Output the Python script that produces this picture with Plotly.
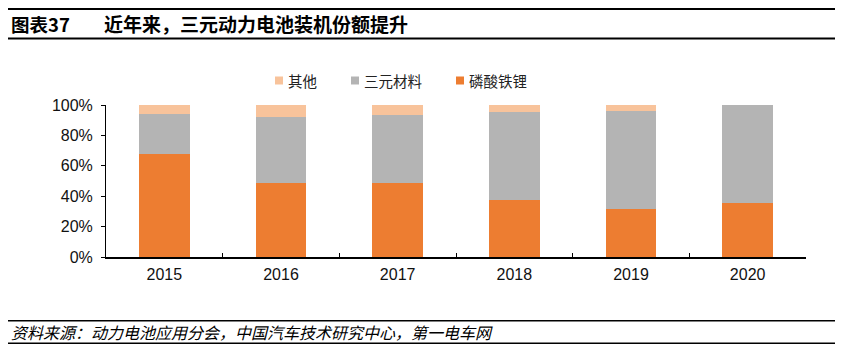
import plotly.graph_objects as go

years = ["2015", "2016", "2017", "2018", "2019", "2020"]
lfp = [67.7, 48.8, 48.8, 37.4, 31.6, 35.6]        # 磷酸铁锂
ncm = [26.4, 43.5, 44.6, 58.2, 64.4, 64.4]        # 三元材料
other = [5.9, 7.7, 6.6, 4.4, 4.0, 0.0]            # 其他

C_LFP = "#ED7D31"
C_NCM = "#B4B4B4"
C_OTH = "#F8C39B"

CJK = "Noto Sans CJK SC"
LAT = "Liberation Sans, Arial"

series = [("磷酸铁锂", lfp, C_LFP), ("三元材料", ncm, C_NCM), ("其他", other, C_OTH)]

fig = go.Figure()
for name, vals, col in series:
    fig.add_bar(x=years, y=vals, name=name, marker=dict(color=col, line_width=0),
                showlegend=False)

L, R, T, B = 106, 49, 105, 94
W, H = 855, 351
pw = W - L - R
ph = H - T - B

def px(x):
    return (x - L) / pw

def py(y):
    return (H - B - y) / ph

fig.update_layout(
    width=W, height=H,
    margin=dict(l=L, r=R, t=T, b=B, pad=0),
    barmode="stack",
    bargap=0.565,
    plot_bgcolor="white",
    paper_bgcolor="white",
    xaxis=dict(
        type="category", showline=True, linecolor="black", linewidth=1.5,
        ticks="inside", tickson="boundaries", ticklen=4, tickcolor="black",
        tickfont=dict(family=LAT, size=16, color="#111"),
        ticklabelstandoff=2,
        showgrid=False, zeroline=False,
    ),
    yaxis=dict(
        range=[0, 100], tickvals=[0, 20, 40, 60, 80, 100],
        ticktext=["0%", "20%", "40%", "60%", "80%", "100%"],
        showline=True, linecolor="black", linewidth=1,
        ticks="outside", ticklen=4, tickcolor="black",
        tickfont=dict(family=LAT, size=16, color="#111"),
        ticklabelstandoff=5,
        showgrid=False, zeroline=False,
    ),
)

shapes = []
for yy, lw in [(9, 2), (38.5, 2), (320.7, 1.5), (343.3, 1.5)]:
    shapes.append(dict(type="line", xref="paper", yref="paper",
                       x0=px(8), x1=px(835), y0=py(yy), y1=py(yy),
                       line=dict(color="black", width=lw)))

# custom legend (reversed order: 其他, 三元材料, 磷酸铁锂)
legend_x = [275, 351, 456]
for (name, vals, col), lx in zip(series[::-1], legend_x):
    shapes.append(dict(type="rect", xref="paper", yref="paper",
                       x0=px(lx), x1=px(lx + 8), y0=py(84.5), y1=py(76.5),
                       fillcolor=col, line_width=0))
    fig.add_annotation(text=name, xref="paper", yref="paper",
                       x=px(lx + 10.5), y=py(80.5), xanchor="left", yanchor="middle",
                       showarrow=False, font=dict(family=CJK, size=14.5, color="#222"))
fig.update_layout(shapes=shapes)

fig.add_annotation(text="<b>图表37</b>", xref="paper", yref="paper",
                   x=px(9), y=py(23.5), xanchor="left", yanchor="middle",
                   showarrow=False, font=dict(family=CJK, size=18.5, color="black"))
fig.add_annotation(text="<b>近年来，三元动力电池装机份额提升</b>", xref="paper", yref="paper",
                   x=px(102), y=py(23.5), xanchor="left", yanchor="middle",
                   showarrow=False, font=dict(family=CJK, size=19, color="black"))
fig.add_annotation(text="<i>资料来源：动力电池应用分会，中国汽车技术研究中心，第一电车网</i>",
                   xref="paper", yref="paper",
                   x=px(9), y=py(332), xanchor="left", yanchor="middle",
                   showarrow=False, font=dict(family=CJK, size=16, color="black"))

fig.write_html("out.html")
